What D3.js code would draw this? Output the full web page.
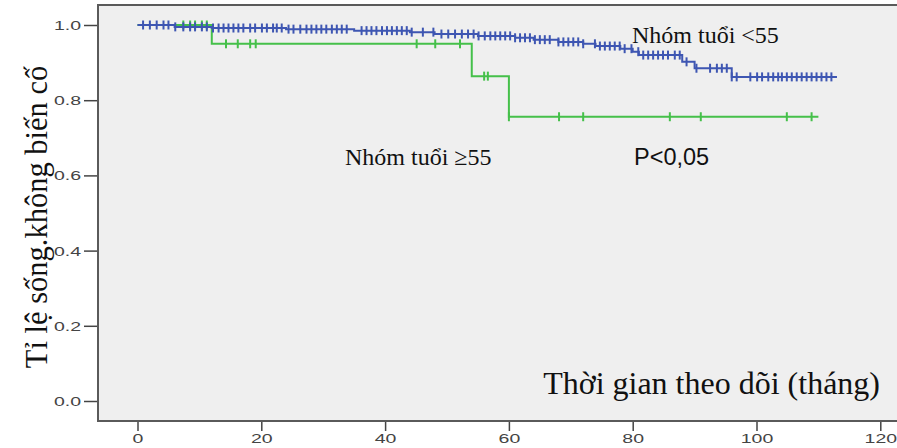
<!DOCTYPE html>
<html>
<head>
<meta charset="utf-8">
<script src="https://cdn.jsdelivr.net/npm/d3@7"></script>
<style>
  body { margin: 0; background: #fff; }
  .tick-label { font-family: "Liberation Sans", Arial, sans-serif; font-size: 13px; fill: #444; }
  .serif { font-family: "Liberation Serif", "Times New Roman", serif; fill: #111; }
</style>
</head>
<body>
<div id="chart"></div>
<script>
// axis ticks
var xTicks = [0, 20, 40, 60, 80, 100, 120]
var yTicks = [0.0, 0.2, 0.4, 0.6, 0.8, 1.0]

// group < 55 : step times (months) and survival after each step
var blueTimes = [0, 6, 12, 24, 35, 44, 48, 55, 61, 64, 68, 72, 74, 78, 80, 81, 88, 90, 96, 113]
var blueSurv  = [1.0, 0.995, 0.992, 0.989, 0.985, 0.981, 0.976, 0.971, 0.966, 0.961, 0.955, 0.950, 0.944, 0.937, 0.929, 0.920, 0.902, 0.885, 0.862, 0.862]
// group < 55 : censored times
var blueCensor = [0.9, 2.0, 3.1, 4.2, 5.0, 6.1, 7.4, 8.5, 9.3, 10.4, 11.2, 12.2, 13.1, 13.9, 14.7, 15.5, 16.3, 17.1, 18.2, 19.0, 20.1, 20.9, 21.9,
  22.5, 23.3, 24.4, 25.2, 26.3, 27.3, 28.1, 28.9, 29.7, 30.5, 31.4, 32.2, 33.0, 33.8, 36.2, 37.0, 37.8, 38.6, 39.5, 40.3, 41.1, 41.9, 42.7, 43.5, 44.3,
  46.1, 47.8, 49.1, 50.2, 51.3, 52.4, 53.4, 54.3, 55.1, 56.1, 57.0, 57.8, 58.6, 59.4, 60.2, 61.0, 61.8, 62.6, 63.4, 64.2, 65.0, 65.8, 66.6,
  68.0, 68.8, 69.6, 70.4, 71.2, 72.0, 73.9, 74.7, 75.5, 76.3, 77.1, 77.9, 78.7, 79.8, 80.9, 81.7, 82.5, 83.3, 84.1, 84.9, 85.7, 86.8, 87.6, 88.7,
  90.3, 92.5, 93.6, 94.4, 95.2, 96.0, 96.8, 99.0, 100.1, 100.9, 101.9, 102.7, 103.5, 104.1, 104.9, 105.7, 106.5, 107.3, 108.1, 108.9, 109.7, 110.5, 111.3, 112.1]

// group >= 55
var greenTimes = [0, 12, 54, 60, 110]
var greenSurv  = [1.0, 0.95, 0.864, 0.756, 0.756]
var greenCensor = [7.4, 8.5, 9.3, 10.4, 11.2, 14.3, 16.2, 18.2, 19.1, 45.1, 48.1, 52.1, 56.0, 56.6, 60.0, 68.1, 72.0, 86.0, 91.0, 104.9, 108.9]

var config = {
  width: 897,
  height: 448,
  frame: { left: 98, top: 5, right: 899, bottom: 421 },
  blue: "#3e56b2",
  green: "#45c04a",
  labelStretch: 1.5
}

var svg = d3.select("#chart").append("svg")
    .attr("width", config.width)
    .attr("height", config.height)

var x = d3.scaleLinear().domain([0, 120]).range([137.5, 880.3])
var y = d3.scaleLinear().domain([0, 1]).range([401, 25])

// plot background + frame
svg.append("rect")
    .attr("x", config.frame.left)
    .attr("y", config.frame.top)
    .attr("width", config.frame.right - config.frame.left)
    .attr("height", config.frame.bottom - config.frame.top)
    .attr("fill", "#efefef")
    .attr("stroke", "#5a5a5a")
    .attr("stroke-width", 2)

// y axis (labels are drawn wide, like the original export)
var yAxis = d3.axisLeft(y).tickValues(yTicks).tickSize(13).tickFormat(d3.format(".1f"))
var gy = svg.append("g").attr("transform", "translate(" + (config.frame.left - 1) + ",0)").call(yAxis)
gy.select(".domain").remove()
gy.selectAll("line").attr("stroke", "#444").attr("stroke-width", 1.5)
gy.selectAll("text")
    .attr("class", "tick-label").attr("font-size", null).attr("font-family", null).attr("fill", null)
    .attr("x", null).attr("dy", "0.35em")
    .attr("transform", "translate(-16,0) scale(" + config.labelStretch + ",1)")

// x axis
var xAxis = d3.axisBottom(x).tickValues(xTicks).tickSize(9)
var gx = svg.append("g").attr("transform", "translate(0," + (config.frame.bottom + 1) + ")").call(xAxis)
gx.select(".domain").remove()
gx.selectAll("line").attr("stroke", "#444").attr("stroke-width", 1.5)
gx.selectAll("text")
    .attr("class", "tick-label").attr("font-size", null).attr("font-family", null).attr("fill", null)
    .attr("y", null).attr("dy", null)
    .attr("transform", "translate(0,21) scale(" + config.labelStretch + ",1)")

// survival curves
function curve(times, surv){
  return times.map(function(t, i){ return { t: t, s: surv[i] } })
}
function survAt(times, surv, t){
  var s = surv[0]
  times.forEach(function(tt, i){ if (tt <= t) s = surv[i] })
  return s
}
var line = d3.line()
    .x(function(d){ return x(d.t) })
    .y(function(d){ return y(d.s) })
    .curve(d3.curveStepAfter)

function drawGroup(times, surv, censor, color){
  svg.append("path")
      .datum(curve(times, surv))
      .attr("fill", "none")
      .attr("stroke", color)
      .attr("stroke-width", 2)
      .attr("d", line)
  svg.append("g").selectAll("line")
      .data(censor)
    .enter().append("line")
      .attr("x1", function(d){ return x(d) })
      .attr("x2", function(d){ return x(d) })
      .attr("y1", function(d){ return y(survAt(times, surv, d)) - 4.5 })
      .attr("y2", function(d){ return y(survAt(times, surv, d)) + 4.5 })
      .attr("stroke", color)
      .attr("stroke-width", 2)
}
drawGroup(greenTimes, greenSurv, greenCensor, config.green)
drawGroup(blueTimes, blueSurv, blueCensor, config.blue)

// annotations
svg.append("text").attr("class", "serif")
    .attr("x", 632).attr("y", 43).attr("font-size", 24)
    .text("Nhóm tuổi <55")
svg.append("text").attr("class", "serif")
    .attr("x", 345).attr("y", 165).attr("font-size", 24)
    .text("Nhóm tuổi ≥55")
svg.append("text")
    .attr("x", 634).attr("y", 165)
    .attr("font-family", "'Liberation Sans', Arial, sans-serif")
    .attr("font-size", 23.5).attr("fill", "#111")
    .text("P<0,05")
svg.append("text").attr("class", "serif")
    .attr("x", 880).attr("y", 394).attr("font-size", 32)
    .attr("text-anchor", "end")
    .text("Thời gian theo dõi (tháng)")
svg.append("text").attr("class", "serif")
    .attr("transform", "translate(47,217) rotate(-90)")
    .attr("font-size", 30.5)
    .attr("text-anchor", "middle")
    .text("Tỉ lệ sống.không biến cố")
</script>
</body>
</html>
